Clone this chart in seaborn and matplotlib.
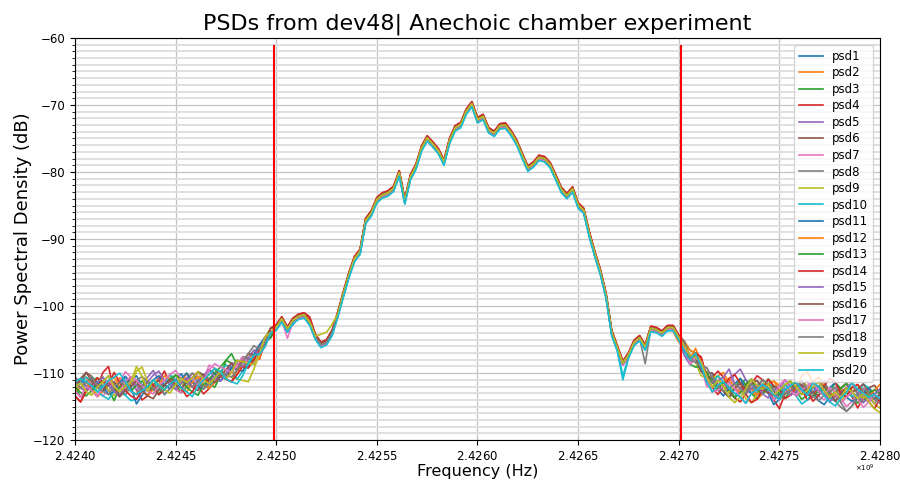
import numpy as np
import pandas as pd
import matplotlib
matplotlib.use('Agg')
import matplotlib.pyplot as plt
import seaborn as sns
from matplotlib.ticker import MultipleLocator, ScalarFormatter

# frequency span of the plotted bins (Hz) and the two band edge markers
freq_start = 2.424e9
freq_stop = 2.428e9
band_edges = [2.42499e9, 2.42701e9]

# average PSD over the 20 captures, one value per bin (dB)
psd_mean = [
    -112.0, -112.2, -112.0, -111.9, -112.1, -112.0, -111.8, -112.0, -112.1, -111.9,
    -112.0, -111.8, -111.9, -112.0, -111.7, -111.8, -111.8, -111.6, -111.7, -111.5,
    -111.4, -111.4, -111.2, -111.0, -110.9, -110.7, -110.5, -110.2, -109.9, -109.5,
    -109.0, -108.5, -108.0, -107.2, -105.3, -104.0, -103.2, -102.0, -103.5, -102.2,
    -101.6, -101.4, -102.5, -104.6, -105.8, -105.4, -104.0, -101.3, -98.3, -95.4,
    -93.0, -91.9, -87.3, -86.2, -84.2, -83.5, -83.2, -82.5, -80.2, -84.4,
    -80.8, -79.2, -76.5, -75.0, -75.9, -76.9, -78.6, -75.4, -73.5, -73.0,
    -71.0, -69.9, -72.3, -71.8, -73.8, -74.3, -73.2, -73.1, -74.2, -75.6,
    -77.6, -79.5, -78.9, -77.9, -78.1, -79.0, -80.8, -82.7, -83.6, -82.6,
    -85.0, -85.8, -89.3, -92.3, -95.0, -98.5, -104.0, -106.3, -108.6, -107.4,
    -105.5, -104.8, -106.2, -103.4, -103.6, -104.1, -103.3, -103.3, -104.7, -106.0,
    -108.0, -107.7, -109.0, -110.6, -111.4, -111.8, -112.0, -112.2, -112.3, -112.2,
    -112.4, -112.3, -112.5, -112.4, -112.3, -112.6, -112.5, -112.4, -112.6, -112.7,
    -112.5, -112.6, -112.8, -112.7, -112.6, -112.9, -112.8, -113.0, -112.9, -112.8,
    -113.1, -113.0, -112.9, -113.2, -113.1,
]

# per capture deviation from the mean in the left noise floor (0.7 dB steps)
left_dev = [
    [1, 0, -1, 2, 1, -1, 0, 1, -2, -1, 1, 2, 0, -1, 1, 0, -2, -1, 1, 2, 0, 1, -1, 0, 2, 1, -1, 0, 1, 2, 0, -1, 1, 0, 1, 0],
    [-1, 1, 2, 0, -2, -1, 1, 0, 2, 1, -1, -2, 0, 1, -1, 2, 1, 0, -1, 0, 2, -1, 0, 1, -2, 0, 1, 2, 1, 0, -1, 1, 0, -1, 0, 1],
    [0, -2, -1, 1, 2, 0, -1, -3, 0, 1, 2, 0, -1, 1, 0, -1, 1, 2, 0, -2, -1, 0, 2, 1, -1, -2, 0, 3, 2, 1, 0, 1, -1, 0, 0, -1],
    [-2, -3, -1, 1, 0, 3, 4, -1, -2, 0, 1, -1, -3, -2, 0, 1, 3, 0, -1, -2, 1, 0, -1, -3, -2, 0, 1, -1, -2, 0, 2, 1, 0, -1, 0, 1],
    [0, 1, 0, -1, -2, 0, 1, -1, 0, 2, 1, -1, 0, 2, 3, 1, 0, -1, 1, 0, -1, 1, 2, 0, -1, 1, 0, -1, 0, 1, 2, 1, 0, 1, 0, 0],
    [2, 1, 3, 2, 0, -1, 0, 1, -1, 0, 2, 1, -1, -2, 0, 1, -1, 0, 2, 1, 0, -1, -2, 0, 1, 2, 0, -1, 1, 2, 1, 0, 1, 2, 0, -1],
    [-1, -2, 0, 1, -1, -2, -1, 0, 1, 3, 2, 0, -1, -2, -1, 0, 1, 0, -1, -2, 0, 2, 1, 0, 3, 2, 1, 0, 2, 1, 0, -1, 0, 1, 1, 0],
    [0, 2, 1, -1, 0, 1, 2, 0, -1, -2, 0, 1, 2, 1, -1, -2, 0, 1, -1, 0, 1, 2, 0, -1, -2, -1, 1, 0, 2, 1, 2, 1, 2, 1, 0, 0],
    [1, 0, -1, 0, 2, 1, -1, -2, 0, 1, 0, 3, 4, 1, 0, -1, 0, 1, 2, 0, -1, 0, 1, 0, 1, 2, 1, 0, -1, -2, -3, -4, -2, 0, 1, 1],
    [0, 1, 2, 1, -1, -2, -3, -1, 0, -2, -3, -3, -1, 0, 1, -1, 0, 2, 1, -1, 0, 1, 0, -1, -2, 0, 1, 2, 1, -2, -1, 0, 1, 0, -1, 0],
    [1, 2, 0, -1, 1, 0, -2, -1, 1, 2, 0, -4, -2, 0, 1, 2, 0, -1, 0, 1, 2, 0, -1, -2, 0, 1, -1, 0, 1, 0, -1, 0, 1, 2, 1, 0],
    [-1, 0, 1, -1, -2, 0, 1, 2, 0, -1, 1, 0, -1, -2, -1, 0, 2, 1, 0, -1, -2, 0, 1, -1, -2, -1, 0, 1, 0, -1, 1, 2, 0, -1, 1, 0],
    [0, -1, -2, -1, 1, 2, 0, -1, 0, 1, -1, 0, 1, 0, -1, -2, 0, 1, 2, 1, -1, -2, -3, -1, 0, 1, 2, 3, 4, 1, 0, -1, 0, 1, 0, -1],
    [-2, -3, -1, 0, 2, 1, 0, 3, 1, -1, -2, -3, -1, 1, 0, -2, -1, 0, 1, -1, -3, -2, 0, 1, -1, 0, 1, -1, -2, -1, 0, -1, 0, 1, 0, 1],
    [1, 0, -1, 0, 1, 2, 0, -1, -2, 0, 1, 0, -1, 1, 2, 3, 1, 0, -1, 0, 1, -1, 0, 1, 2, 0, -1, 0, 2, 1, 0, 1, 2, 0, -1, 0],
    [0, 2, 3, 1, 0, -1, 1, 0, -2, -1, 0, 1, -1, -2, -3, -1, 0, 1, 0, -1, 0, 1, 2, 1, 0, -1, 0, 1, 2, 0, 1, 2, 1, 0, 0, 1],
    [-1, -2, 0, -1, -2, 0, 1, 0, -1, 1, 2, 1, 0, -1, -2, 0, 1, 2, 3, 1, 0, 1, -1, 0, 2, 3, 2, 1, 0, 1, 2, 0, -1, 0, 1, 0],
    [1, 0, 1, 2, 0, -1, -2, 0, 1, 0, -1, -2, 0, 1, -1, 0, -2, -1, 0, 1, 0, -1, 0, -2, -1, 0, 1, 0, -1, 0, 1, 2, 3, 1, 0, 0],
    [0, 1, -1, -2, 0, 1, 2, 0, -1, 0, 1, 4, 2, -1, 1, 0, -1, -2, 0, 1, 0, 1, 2, 0, -1, 0, 1, -1, 0, 2, 1, 0, -1, 0, 1, 0],
    [1, 2, 1, 0, -1, 0, 1, 2, 3, 1, -1, -2, -1, 0, 1, 0, -1, 0, 1, -1, -2, -3, -1, 0, 1, 2, 1, -1, -2, -3, -2, 0, 1, 0, -1, 0],
]

# per capture deviation from the mean in the right noise floor (0.7 dB steps)
right_dev = [
    [0, 1, 0, -1, 1, 2, 0, -1, -2, 0, 1, 2, 0, -1, 1, 0, -2, -1, 1, 2, 0, -1, 1, 0, -2, -3, -1, 0, 1, 2, 0, -1, 1, -1, 0, 1],
    [1, 0, 2, 1, -1, 0, 2, 3, 1, 0, -1, 1, 0, -2, -1, 1, 2, 0, -1, 0, 1, 3, 4, 2, 0, -1, 1, 0, -1, 1, 2, 0, -1, -2, 0, 1],
    [1, 2, 1, 0, -1, -2, 0, 1, -1, 0, 2, 1, -1, -2, 0, 1, 0, -1, 1, 2, 0, -2, -1, 0, 1, -1, 0, 2, 1, 0, -1, -2, 0, 1, -1, 0],
    [-1, 0, 1, 2, 0, 1, 3, 2, 0, -2, -3, -1, 1, 3, 2, 0, -2, -4, -1, 1, 2, 0, -2, -1, 1, 2, 0, -1, 1, 2, -1, -3, -1, 1, 0, -2],
    [0, -1, 1, 0, 2, 1, -1, 0, 1, 3, 4, 2, 0, -1, 1, 0, -1, 0, 2, 1, -1, 0, 1, 2, 0, -1, -2, 0, 1, -1, 0, 1, -1, -2, 0, 1],
    [1, 0, 0, -1, 1, 2, 0, 1, -1, -2, 0, 1, 2, 0, -1, 1, 0, -2, -1, 0, 1, 0, -1, 1, 2, 1, -1, -2, 0, 1, 0, -1, 0, 1, 2, 0],
    [0, 1, -1, 0, -2, -1, 1, 0, 2, 1, -1, 0, 1, 2, 0, -1, -2, 0, 1, 0, -1, 1, 2, 0, -1, -2, 0, 1, -1, -3, -2, 0, 1, 0, -2, -3],
    [-1, 0, 1, 0, -1, 1, 0, -1, -2, 0, 1, 0, -1, 1, 2, 0, -1, -2, -1, 0, 1, 0, -1, 0, 1, 2, 0, -2, -3, -4, -3, -1, 0, -1, -2, 0],
    [1, 0, -1, -2, 0, 1, 2, 0, -1, 1, 0, -2, -3, -1, 1, 2, 1, 0, -1, 1, 0, 2, 1, 0, -1, 1, 0, -1, -2, 0, 1, 0, -1, 0, -2, -3],
    [-1, -1, 0, 1, -1, 0, 2, 1, 0, -1, -2, 0, 1, -1, 0, 2, 0, -1, 1, 0, -1, -3, -2, 0, 1, 0, -1, -2, 0, 1, -1, 0, 2, 1, -1, 0],
    [0, 1, 0, -1, 0, 1, -1, -2, 0, 1, 2, 0, -1, 0, 1, -1, -3, -2, 0, 1, 2, 0, -1, 1, 0, -1, 1, 2, 0, -1, -2, -1, 0, 1, 0, -1],
    [1, 2, 1, 0, 1, 0, -1, 1, 2, 0, -1, 1, 0, -1, 0, 1, 2, 1, 0, -1, 0, 1, 0, 2, 3, 1, 0, -1, 1, 0, 1, 2, 0, -1, 1, 2],
    [0, -1, -2, 0, 1, 0, -1, 1, 0, -2, -1, 1, 2, 0, -1, 0, 1, -1, -2, 0, 1, 2, 0, -1, 0, 1, -1, 0, 1, 2, 0, -1, -2, 0, 1, 0],
    [1, 0, 1, 2, 0, -1, -2, 0, 2, 3, 1, -1, -3, -2, 0, 2, 1, 0, -2, -1, 1, 2, 0, -2, -1, 1, 3, 2, 0, -1, 1, 2, 0, -2, -3, -1],
    [-2, -1, 0, 1, -1, 0, 1, 2, 4, 1, 0, -1, 0, 1, -1, -2, 0, 1, 0, -1, 0, 1, -1, 0, 1, 0, -2, -1, 0, 1, 2, 0, -2, -1, 0, 1],
    [0, 1, 0, -1, 0, 1, 0, -1, -2, 0, 1, 0, 1, 2, 0, -1, 1, 0, -1, 0, 2, 1, -1, 0, -1, 1, 0, -2, 0, 1, 0, 1, 2, 0, -1, 0],
    [0, -1, 0, 1, 0, -2, -1, 0, 1, 0, -2, -3, -1, 0, 1, 0, -1, 1, 2, 0, -1, 0, 1, 2, 0, -1, 1, 0, -2, -1, 0, -1, -3, -2, 0, -1],
    [1, 0, -1, 0, 2, 1, 0, -1, 0, 1, 0, -1, 1, 0, 2, 1, 0, -2, -1, 0, 1, 2, 0, -1, -2, -1, 0, 1, -2, -4, -3, 0, 1, 0, -1, -2],
    [0, 1, 0, 1, 0, -1, 1, 0, -2, -3, -2, 0, 2, 1, 0, 1, -1, 0, 1, 2, 1, -1, 0, 1, 2, 0, -1, 0, -1, 1, 0, -1, 0, -2, -3, -4],
    [-1, 0, 1, 0, -1, -2, 0, 1, 0, -1, -2, -3, -1, 0, 1, 0, -1, -2, 0, 1, 2, 0, -1, 2, 1, -1, -2, -3, -1, 0, 2, 1, 0, -1, 0, -1],
]
dev_step = 0.7

# per capture level offset across the signal band (dB)
mid_offset = [0.2, 0.3, 0.0, 0.4, -0.1, 0.2, -0.2, 0.0, 0.1, -0.3,
              0.1, 0.3, -0.1, 0.4, -0.2, 0.2, -0.2, 0.0, 0.1, -0.4]

# single bins where one capture departs from the others: (capture, bin, dB)
outliers = [(19, 44, 1.5), (19, 45, 1.4), (19, 46, 1.2), (10, 98, -1.5),
            (20, 98, -2.0), (8, 102, -2.4), (17, 38, -1.1), (12, 107, -0.8),
            (12, 108, -1.0), (1, 38, -0.6), (11, 39, -0.7), (4, 42, 0.5)]

names = ['psd{}'.format(i + 1) for i in range(len(mid_offset))]
freq = np.linspace(freq_start, freq_stop, len(psd_mean))
mean = np.array(psd_mean)

frames = []
for i, name in enumerate(names):
    dev = np.full(len(mean), mid_offset[i])
    dev[:len(left_dev[i])] = dev_step * np.array(left_dev[i])
    dev[len(mean) - len(right_dev[i]):] = dev_step * np.array(right_dev[i])
    for cap, b, d in outliers:
        if cap == i + 1:
            dev[b] += d
    frames.append(pd.DataFrame({'freq': freq, 'psd': mean + dev, 'name': name}))
df = pd.concat(frames, ignore_index=True)

fig = plt.figure(figsize=(9, 4.8), dpi=100)
ax = fig.add_axes([0.0833, 0.083, 0.8945, 0.838])

sns.lineplot(data=df, x='freq', y='psd', hue='name', palette=sns.color_palette('tab10', 20),
             estimator=None, sort=False, linewidth=1.2, ax=ax)
ax.vlines(band_edges, -125, -61, colors='red', linewidth=1.5, zorder=5)

ax.set_xlim(freq_start, freq_stop)
ax.set_ylim(-120, -60)
ax.yaxis.set_major_locator(MultipleLocator(10))
ax.yaxis.set_minor_locator(MultipleLocator(1))
fmt = ScalarFormatter(useOffset=False, useMathText=True)
ax.xaxis.set_major_formatter(fmt)
ax.tick_params(labelsize=8.5)
ax.grid(which='major', color='#c4c4c4', linewidth=0.9)
ax.grid(which='minor', axis='y', color='#e0e0e0', linewidth=1.4)
ax.set_axisbelow(True)

ax.set_title('PSDs from dev48| Anechoic chamber experiment', fontsize=16)
ax.set_xlabel('Frequency (Hz)', fontsize=11.5, labelpad=0.5)
ax.set_ylabel('Power Spectral Density (dB)', fontsize=13, labelpad=0.5)

handles, labels = ax.get_legend_handles_labels()
ax.legend(handles, labels, loc='upper right', fontsize=8.5, labelspacing=0.3,
          borderaxespad=0.6)

# draw the x10^9 multiplier ourselves so it sits where the reference has it
fig.canvas.draw()
offset = ax.xaxis.get_offset_text().get_text()
ax.xaxis.get_offset_text().set_visible(False)
ax.text(0.993, -0.056, offset, transform=ax.transAxes, ha='right', va='top', fontsize=5)

fig.savefig('out.png', dpi=100)
